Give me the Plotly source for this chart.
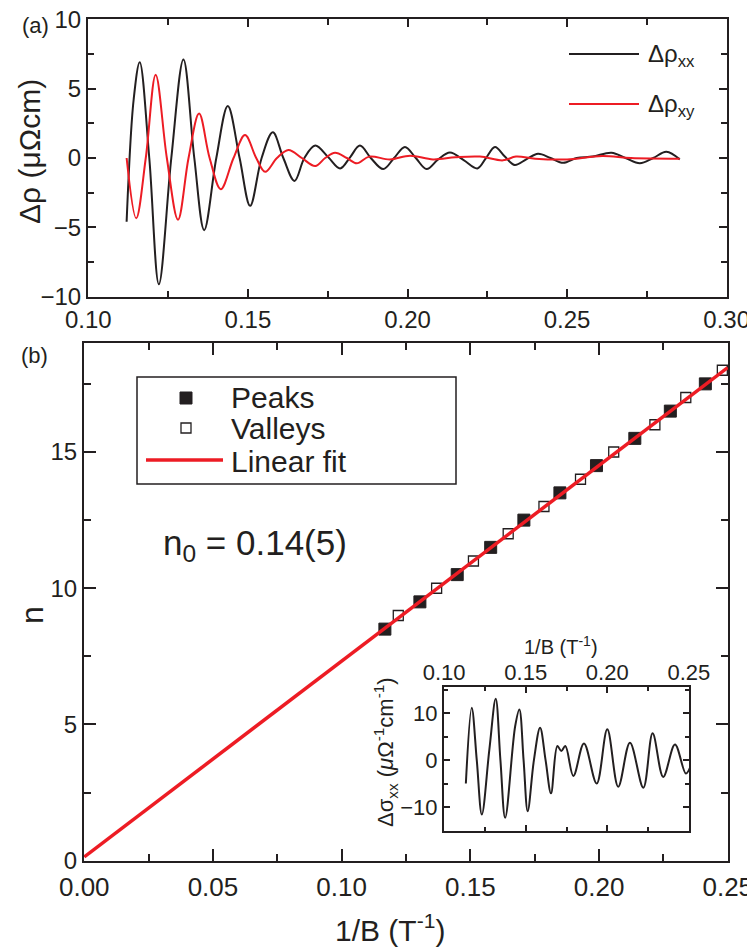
import plotly.graph_objects as go

# ---------------- data ----------------
# panel (a): oscillatory resistivity vs 1/B
a_x_xx = [0.1120, 0.1142, 0.1161, 0.1191, 0.1221, 0.1260, 0.1298, 0.1332, 0.1363, 0.1401,
          0.1437, 0.1474, 0.1507, 0.1543, 0.1578, 0.1611, 0.1646, 0.1677, 0.1711, 0.1752,
          0.1789, 0.1820, 0.1851, 0.1885, 0.1924, 0.1958, 0.1992, 0.2026, 0.2060, 0.2096,
          0.2133, 0.2176, 0.2219, 0.2246, 0.2274, 0.2305, 0.2336, 0.2372, 0.2409, 0.2448,
          0.2488, 0.2530, 0.2580, 0.2639, 0.2683, 0.2728, 0.2770, 0.2811, 0.2853]
a_rho_xx = [-4.6, 4.2, 6.9, 0.0, -9.1, 0.0, 7.1, 0.0, -5.2, 0.0,
            3.75, 0.0, -3.45, 0.0, 1.85, 0.0, -1.65, 0.0, 0.9, 0.05,
            -0.75, 0.05, 0.9, 0.0, -0.8, 0.0, 0.8, 0.0, -0.8, -0.1,
            0.4, -0.15, -0.75, 0.0, 0.8, 0.1, -0.5, -0.1, 0.3, 0.0,
            -0.35, 0.0, 0.1, 0.38, 0.0, -0.38, 0.0, 0.45, -0.1]

a_x_xy = [0.1120, 0.1150, 0.1180, 0.1211, 0.1246, 0.1281, 0.1314, 0.1347, 0.1380, 0.1415,
          0.1455, 0.1491, 0.1526, 0.1554, 0.1591, 0.1627, 0.1669, 0.1711, 0.1742, 0.1773,
          0.1810, 0.1841, 0.1880, 0.1945, 0.2008, 0.2080, 0.2150, 0.2227, 0.2299, 0.2340,
          0.2400, 0.2500, 0.2610, 0.2700, 0.2853]
a_rho_xy = [0.0, -4.35, 0.0, 6.0, 0.0, -4.45, 0.0, 3.2, 0.0, -2.25,
            0.0, 1.65, 0.0, -1.0, 0.0, 0.58, 0.0, -0.58, 0.0, 0.38,
            0.0, -0.38, 0.1, -0.1, 0.17, -0.1, 0.05, 0.1, -0.17, 0.1,
            -0.05, -0.1, 0.14, 0.0, -0.05]

# panel (b): Landau level index plot
peaks_x = [0.1168, 0.1304, 0.1449, 0.1579, 0.1708, 0.1848, 0.1990, 0.2139, 0.2277, 0.2413]
peaks_n = [8.5, 9.5, 10.5, 11.5, 12.5, 13.5, 14.5, 15.5, 16.5, 17.5]
valleys_x = [0.1220, 0.1369, 0.1512, 0.1647, 0.1786, 0.1928, 0.2057, 0.2217, 0.2337, 0.2479]
valleys_n = [9, 10, 11, 12, 13, 14, 15, 16, 17, 18]
fit_x = [0.0, 0.25]
fit_n = [0.14, 18.1]

# inset: conductivity oscillation
ins_x = [0.1133, 0.1169, 0.1200, 0.1231, 0.1277, 0.1316, 0.1345, 0.1374, 0.1435, 0.1461,
         0.1487, 0.1512, 0.1550, 0.1588, 0.1622, 0.1655, 0.1694, 0.1718, 0.1743, 0.1792,
         0.1857, 0.1935, 0.2000, 0.2067, 0.2139, 0.2221, 0.2278, 0.2343, 0.2415, 0.2482,
         0.2511]
ins_sigma = [-4.9, 11.2, 0.0, -11.5, 2.3, 13.1, 0.0, -12.2, 7.2, 10.8,
             0.0, -10.8, 0.0, 6.95, 0.0, -7.0, 3.05, 2.0, 3.05, -3.3,
             3.6, -4.9, 6.6, -5.6, 3.75, -5.8, 5.75, -3.5, 3.4, -2.8,
             -1.2]

# legend labels
legend_a = ["Δρ<sub>xx</sub>", "Δρ<sub>xy</sub>"]
legend_b = ["Peaks", "Valleys", "Linear fit"]

# ---------------- style ----------------
W, H = 755, 947
OFF = 8  # the page body adds an 8 px offset
BLACK = "#231f20"
RED = "#ed1c24"
FONT = "Liberation Sans, Arial, Helvetica, sans-serif"


def px_x(p):
    return (p - OFF) / W


def px_y(p):
    return 1 - (p - OFF) / H


fig = go.Figure()

fig.add_trace(go.Scatter(x=a_x_xx, y=a_rho_xx, mode="lines", name=legend_a[0],
                         line=dict(color=BLACK, width=2, shape="spline"),
                         xaxis="x", yaxis="y", showlegend=False))
fig.add_trace(go.Scatter(x=a_x_xy, y=a_rho_xy, mode="lines", name=legend_a[1],
                         line=dict(color=RED, width=2, shape="spline"),
                         xaxis="x", yaxis="y", showlegend=False))

fig.add_trace(go.Scatter(x=peaks_x, y=peaks_n, mode="markers", name=legend_b[0],
                         marker=dict(symbol="square", size=12, color=BLACK,
                                     line=dict(color=BLACK, width=1)),
                         xaxis="x2", yaxis="y2", showlegend=False))
fig.add_trace(go.Scatter(x=valleys_x, y=valleys_n, mode="markers", name=legend_b[1],
                         marker=dict(symbol="square-open", size=10, color=BLACK,
                                     line=dict(color=BLACK, width=1.3)),
                         xaxis="x2", yaxis="y2", showlegend=False))
fig.add_trace(go.Scatter(x=fit_x, y=fit_n, mode="lines", name=legend_b[2],
                         line=dict(color=RED, width=3.5),
                         xaxis="x2", yaxis="y2", showlegend=False))

fig.add_trace(go.Scatter(x=ins_x, y=ins_sigma, mode="lines", showlegend=False,
                         line=dict(color=BLACK, width=2, shape="spline"),
                         xaxis="x3", yaxis="y3"))


def axis(domain, rng, dtick, minor_dtick, ticklen, minor_len, fsize, anchor, tick0=0, **kw):
    d = dict(domain=domain, range=rng, dtick=dtick, tick0=tick0, anchor=anchor,
             automargin=False, ticklabeloverflow="allow",
             ticks="inside", ticklen=ticklen, tickwidth=1.5, tickcolor=BLACK,
             minor=dict(dtick=minor_dtick, tick0=tick0, ticks="inside", ticklen=minor_len,
                        tickwidth=1.5, tickcolor=BLACK, showgrid=False),
             showline=True, linewidth=2, linecolor=BLACK, mirror="allticks",
             showgrid=False, zeroline=False,
             tickfont=dict(family=FONT, size=fsize, color=BLACK))
    d.update(kw)
    return d


fig.update_layout(
    template="none",
    width=W, height=H,
    margin=dict(l=0, r=0, t=0, b=0, pad=0, autoexpand=False),
    paper_bgcolor="white", plot_bgcolor="white",
    showlegend=False,
    font=dict(family=FONT, color=BLACK),
    xaxis=axis([px_x(88), px_x(727)], [0.0999, 0.3001], 0.05, 0.025, 8, 6, 24, "y",
               tick0=0.1, tickformat=".2f"),
    yaxis=axis([px_y(297), px_y(19)], [-10.02, 10.02], 5, 2.5, 8, 6, 24, "x"),
    xaxis2=axis([px_x(84), px_x(728)], [-0.0001, 0.2501], 0.05, 0.025, 12, 7, 26, "y2",
                tickformat=".2f", ticklabelstandoff=2),
    yaxis2=axis([px_y(861), px_y(343)], [-0.01, 19], 5, 2.5, 12, 7, 24, "x2"),
    xaxis3=axis([px_x(444), px_x(689)], [0.0999, 0.2501], 0.05, 0.025, 6, 4, 22, "y3",
                tick0=0.1, tickformat=".2f", side="top", ticklabelstandoff=-4),
    yaxis3=axis([px_y(831), px_y(687)], [-15, 15.6], 10, 5, 6, 4, 22, "x3"),
)

shapes = [
    # legend (a)
    dict(type="line", x0=px_x(569), x1=px_x(639), y0=px_y(54), y1=px_y(54),
         line=dict(color=BLACK, width=2)),
    dict(type="line", x0=px_x(569), x1=px_x(639), y0=px_y(104), y1=px_y(104),
         line=dict(color=RED, width=2)),
    # legend (b) box and glyphs
    dict(type="rect", x0=px_x(137), x1=px_x(456), y0=px_y(484), y1=px_y(377),
         line=dict(color=BLACK, width=1.5), fillcolor="white"),
    dict(type="rect", x0=px_x(180), x1=px_x(192), y0=px_y(404), y1=px_y(392),
         line=dict(color=BLACK, width=1), fillcolor=BLACK),
    dict(type="rect", x0=px_x(181), x1=px_x(191), y0=px_y(433), y1=px_y(423),
         line=dict(color=BLACK, width=1.3), fillcolor="white"),
    dict(type="line", x0=px_x(146), x1=px_x(223), y0=px_y(460), y1=px_y(460),
         line=dict(color=RED, width=3.5)),
]
for s in shapes:
    s.update(xref="paper", yref="paper", layer="above")
fig.update_layout(shapes=shapes)

ann = [
    dict(text="(a)", x=35, y=26, size=22, angle=0, xa="center"),
    dict(text="(b)", x=34, y=356, size=22, angle=0, xa="center"),
    dict(text="Δρ (μΩcm)", x=29, y=152, size=30, angle=-90, xa="center"),
    dict(text="n", x=32, y=615, size=32, angle=-90, xa="center"),
    dict(text="1/B (T<sup>-1</sup>)", x=390, y=928, size=30, angle=0, xa="center"),
    dict(text="1/B (T<sup>-1</sup>)", x=561, y=645, size=20, angle=0, xa="center"),
    dict(text="Δσ<sub>xx</sub> (<i>μ</i>Ω<sup>-1</sup>cm<sup>-1</sup>)", x=385, y=752,
         size=22, angle=-90, xa="center"),
    dict(text="n<sub>0</sub> = 0.14(5)", x=255, y=545, size=35, angle=0, xa="center"),
    dict(text=legend_a[0], x=646, y=56, size=24, angle=0, xa="left"),
    dict(text=legend_a[1], x=646, y=106, size=24, angle=0, xa="left"),
    dict(text=legend_b[0], x=229, y=397, size=30, angle=0, xa="left"),
    dict(text=legend_b[1], x=229, y=428, size=30, angle=0, xa="left"),
    dict(text=legend_b[2], x=229, y=461, size=30, angle=0, xa="left"),
]
fig.update_layout(annotations=[
    dict(text=a["text"], x=px_x(a["x"]), y=px_y(a["y"]), xref="paper", yref="paper",
         showarrow=False, textangle=a["angle"], xanchor=a["xa"], yanchor="middle",
         font=dict(family=FONT, size=a["size"], color=BLACK))
    for a in ann
])

fig.write_html("out.html")
